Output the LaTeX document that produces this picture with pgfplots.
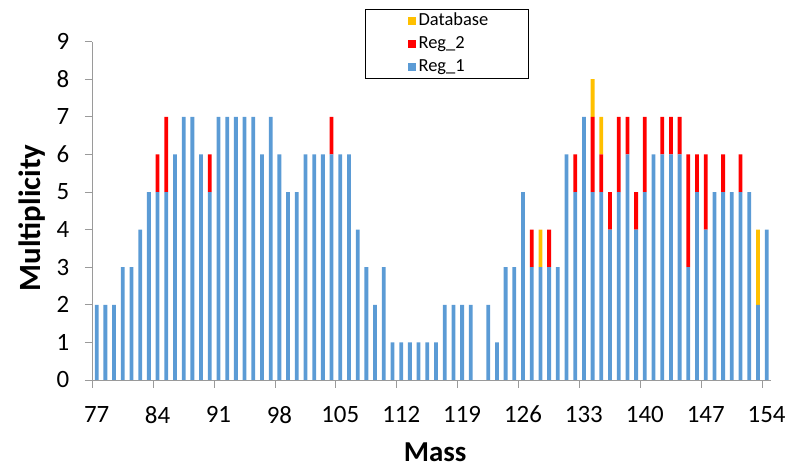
\documentclass[border=0pt]{standalone}
\usepackage{fontspec}
\setmainfont{Carlito}
\usepackage{pgfplots}
\pgfplotsset{compat=1.18}
\usepackage{pgfplotstable}
\definecolor{regone}{HTML}{5B9BD5}
\definecolor{regtwo}{HTML}{FF0000}
\definecolor{dbcol}{HTML}{FFC000}
\definecolor{axgray}{HTML}{9A9A9A}

\pgfplotstableread{
m r1 r2 db
77 2 0 0
78 2 0 0
79 2 0 0
80 3 0 0
81 3 0 0
82 4 0 0
83 5 0 0
84 5 1 0
85 5 2 0
86 6 0 0
87 7 0 0
88 7 0 0
89 6 0 0
90 5 1 0
91 7 0 0
92 7 0 0
93 7 0 0
94 7 0 0
95 7 0 0
96 6 0 0
97 7 0 0
98 6 0 0
99 5 0 0
100 5 0 0
101 6 0 0
102 6 0 0
103 6 0 0
104 6 1 0
105 6 0 0
106 6 0 0
107 4 0 0
108 3 0 0
109 2 0 0
110 3 0 0
111 1 0 0
112 1 0 0
113 1 0 0
114 1 0 0
115 1 0 0
116 1 0 0
117 2 0 0
118 2 0 0
119 2 0 0
120 2 0 0
121 0 0 0
122 2 0 0
123 1 0 0
124 3 0 0
125 3 0 0
126 5 0 0
127 3 1 0
128 3 0 1
129 3 1 0
130 3 0 0
131 6 0 0
132 5 1 0
133 7 0 0
134 5 2 1
135 5 1 1
136 4 1 0
137 5 2 0
138 6 1 0
139 4 1 0
140 5 2 0
141 6 0 0
142 6 1 0
143 6 1 0
144 6 1 0
145 3 3 0
146 5 1 0
147 4 2 0
148 5 0 0
149 5 1 0
150 5 0 0
151 5 1 0
152 5 0 0
153 2 0 2
154 4 0 0
}\datatable

\begin{document}
\begin{tikzpicture}
\begin{axis}[
  at={(92.3bp,90bp)}, anchor=south west,
  scale only axis, width=678.7bp, height=338.4bp,
  xmin=76.5, xmax=154.5, ymin=0, ymax=9,
  ybar stacked, bar width=3.8bp,
  axis x line*=bottom, axis y line*=left,
  axis line style={draw=axgray, line width=0.9bp, -},
  xtick={76.5,83.5,...,153.5},
  xticklabels={77,84,91,98,105,112,119,126,133,140,147,154},
  x tick label style={xshift=4.35bp, yshift=-15bp},
  y tick label style={xshift=-12bp},
  ytick={0,1,...,9},
  tick align=outside, major tick length=7.5bp,
  tick style={draw=axgray, line width=0.9bp},
  tick label style={font=\fontsize{25}{30}\selectfont},
  /pgf/number format/assume math mode=true,
  xlabel={\textbf{Mass}},
  ylabel={\textbf{Multiplicity}},
  xlabel style={at={(axis description cs:0.505,-0.2125)}, anchor=center, inner sep=0pt, font=\fontsize{29}{34}\selectfont},
  ylabel style={at={(axis description cs:-0.0888,0.4787)}, anchor=center, inner sep=0pt, font=\fontsize{31}{36}\selectfont},
  legend style={at={(0.4018,1.0955)}, anchor=north west, draw=black, line width=1.2bp,
    inner xsep=37.5bp, inner ysep=0bp, font=\fontsize{18.5}{20}\selectfont,
    cells={anchor=west}, row sep=0pt,
    nodes={text height=13bp, text depth=4bp, inner ysep=3bp, inner xsep=2.5bp}},
  reverse legend,
  legend image code/.code={\path (0bp,0bp); \fill[#1] (5bp,-4bp) rectangle (13bp,4bp);},
]
\addplot[fill=regone, draw=none] table[x=m,y=r1]{\datatable};
\addlegendentry{Reg\_1}
\addplot[fill=regtwo, draw=none] table[x=m,y=r2]{\datatable};
\addlegendentry{Reg\_2}
\addplot[fill=dbcol, draw=none] table[x=m,y=db]{\datatable};
\addlegendentry{Database}
\end{axis}
\pgfresetboundingbox
\useasboundingbox (0,0) rectangle (797bp,470bp);
\end{tikzpicture}
\end{document}
